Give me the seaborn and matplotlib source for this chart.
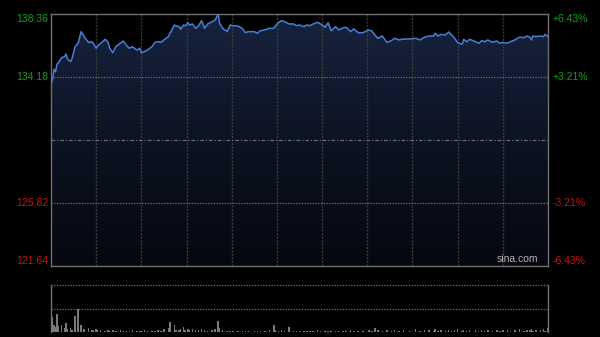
import numpy as np
import pandas as pd
import seaborn as sns
import matplotlib
matplotlib.use("Agg")
import matplotlib.pyplot as plt
from matplotlib.colors import LinearSegmentedColormap

# ---------------- data ----------------
minutes = [0, 1, 2, 3, 4, 5, 7, 9, 10, 11, 13, 14, 16, 18, 20, 22, 25, 27, 28, 30,
           31, 33, 36, 38, 39, 41, 43, 46, 48, 50, 52, 54, 57, 59, 60, 62, 64, 67, 69, 71,
           73, 75, 78, 79, 82, 83, 85, 86, 88, 89, 91, 92, 94, 96, 98, 100, 102, 104, 107, 109,
           111, 112, 114, 117, 119, 121, 124, 127, 129, 131, 135, 137, 139, 142, 145, 148, 149, 151, 153, 155,
           158, 161, 163, 165, 168, 170, 172, 174, 177, 179, 182, 184, 186, 189, 191, 194, 196, 199, 201, 204,
           207, 211, 213, 215, 217, 220, 223, 226, 228, 231, 234, 238, 242, 245, 248, 251, 254, 255, 257, 259,
           262, 264, 266, 268, 270, 273, 274, 276, 278, 282, 284, 286, 288, 290, 293, 296, 298, 300, 303, 305,
           308, 311, 314, 316, 318, 319, 320, 322, 325, 327, 328, 330]
prices = [133.76, 133.98, 134.69, 134.53, 135.04, 135.13, 135.46, 135.53, 135.71, 135.36,
          135.20, 135.42, 136.19, 136.42, 137.19, 136.86, 136.46, 136.52, 136.42, 136.09,
          136.24, 136.42, 136.68, 136.46, 136.09, 135.79, 136.19, 136.42, 136.57, 136.30,
          136.09, 136.19, 135.97, 136.09, 135.79, 135.86, 135.97, 136.19, 136.48, 136.52,
          136.48, 136.64, 136.86, 137.08, 137.63, 137.57, 137.52, 137.35, 137.63, 137.57,
          137.78, 137.63, 137.70, 137.41, 137.57, 137.92, 137.41, 137.70, 137.85, 137.96,
          138.36, 137.74, 137.41, 137.19, 137.63, 137.57, 137.57, 137.41, 137.12, 137.19,
          137.19, 137.08, 137.25, 137.30, 137.41, 137.41, 137.57, 137.78, 137.92, 137.85,
          137.70, 137.70, 137.59, 137.63, 137.52, 137.63, 137.59, 137.70, 137.81, 137.70,
          137.48, 137.78, 137.25, 137.52, 137.30, 137.45, 137.48, 137.19, 137.37, 137.12,
          137.12, 137.30, 137.23, 136.97, 136.75, 136.90, 136.48, 136.59, 136.75, 136.64,
          136.70, 136.70, 136.75, 136.64, 136.82, 136.90, 136.90, 137.08, 136.90, 137.01,
          136.97, 137.17, 136.97, 136.75, 136.46, 136.35, 136.68, 136.52, 136.68, 136.52,
          136.42, 136.59, 136.52, 136.64, 136.48, 136.57, 136.42, 136.48, 136.42, 136.52,
          136.64, 136.82, 136.79, 136.90, 136.82, 136.64, 136.90, 136.86, 136.90, 136.86,
          137.01, 136.86]
volumes = [25, 32, 15, 10, 38, 12, 15, 8, 20, 6, 8, 5, 33, 50, 15, 6, 8, 5, 4, 6,
           4, 5, 3, 4, 3, 5, 3, 4, 3, 2, 3, 4, 3, 2, 3, 4, 3, 2, 3, 4,
           3, 6, 8, 22, 14, 5, 4, 6, 10, 5, 7, 4, 6, 4, 5, 6, 4, 3, 5, 6,
           24, 8, 4, 3, 2, 3, 2, 3, 2, 3, 2, 3, 2, 3, 4, 15, 5, 3, 4, 3,
           10, 3, 2, 3, 2, 3, 2, 3, 4, 2, 3, 2, 3, 2, 3, 2, 3, 4, 3, 2,
           3, 4, 3, 8, 4, 3, 5, 3, 4, 3, 5, 3, 6, 3, 4, 5, 3, 6, 3, 4,
           3, 5, 3, 4, 6, 3, 4, 3, 5, 4, 3, 5, 3, 4, 3, 5, 3, 4, 5, 3,
           4, 6, 3, 5, 4, 6, 3, 5, 4, 7, 3, 8]

prev_close = 130.00
price_ticks = [138.36, 134.18, 125.82, 121.64]
pct_labels = ["+6.43%", "+3.21%", "-3.21%", "-6.43%"]
tick_colors = ["#14a014", "#14a014", "#c81414", "#c81414"]
session_minutes = 330
grid_step = 30

df = pd.DataFrame({"minute": minutes, "price": prices, "volume": volumes})

# ---------------- figure ----------------
sns.set_theme(style="dark")
plt.rcParams["font.family"] = ["Liberation Sans", "DejaVu Sans"]

W, H = 600, 337
fig = plt.figure(figsize=(W / 100, H / 100), dpi=100, facecolor="black")
ax = fig.add_axes([51 / W, (H - 266) / H, 497 / W, 252 / H])
axv = fig.add_axes([51 / W, (H - 332) / H, 497 / W, 47 / H])

ymin, ymax = price_ticks[-1], price_ticks[0]
for a in (ax, axv):
    a.set_facecolor("black")
    a.set_xlim(0, session_minutes)
    a.set_xticks([])
    a.set_yticks([])
    a.grid(False)
ax.set_ylim(ymin, ymax)

# gradient fill under the line
cmap = LinearSegmentedColormap.from_list("fill", ["#060810", "#0c1322", "#17243f"])
grad = np.linspace(0, 1, 256).reshape(-1, 1)
im = ax.imshow(grad, origin="lower", aspect="auto", cmap=cmap,
               extent=[0, session_minutes, ymin, ymax], zorder=1)
poly = ax.fill_between(df["minute"], df["price"], ymin, color="none", lw=0)
im.set_clip_path(poly.get_paths()[0], transform=ax.transData)

# grid lines
for m in range(grid_step, session_minutes, grid_step):
    ax.axvline(m, color="#3c3c3c", lw=1, ls=(0, (1.5, 1)), zorder=2)
for p in (price_ticks[1], price_ticks[2]):
    ax.axhline(p, color="#6e6e6e", lw=0.9, ls=(0, (1, 1.2)), zorder=2)
ax.axhline(prev_close, color="#5f6f80", lw=0.9, ls=(0, (3, 1.5, 1, 1.5)), zorder=2)

sns.lineplot(data=df, x="minute", y="price", ax=ax, color="#4a7ed4",
             lw=1.1, zorder=4, estimator=None)
ax.set_xlabel("")
ax.set_ylabel("")

for s in ax.spines.values():
    s.set_visible(True)
    s.set_color("#707070")
    s.set_linewidth(1)

# price / percent labels
trans = ax.get_yaxis_transform()
vas = ["top", "center", "center", "bottom"]
for p, lab, c, va in zip(price_ticks, pct_labels, tick_colors, vas):
    ax.text(-0.006, p, f"{p:.2f}", color=c, fontsize=7.5, ha="right", va=va,
            transform=trans)
    ax.text(1.010, p, lab, color=c, fontsize=7.5, ha="left", va=va,
            transform=trans)

ax.text(0.98, 0.006, "sina.com", color="#b4b4b4", fontsize=7.5, ha="right",
        va="bottom", transform=ax.transAxes, zorder=5)

# volume panel
axv.bar(df["minute"], df["volume"], width=1.0, color="#7a7a7a", lw=0, zorder=3)
axv.set_ylim(0, 100)
for v in (100, 50):
    axv.axhline(v, color="#6e6e6e", lw=0.9, ls=(0, (1, 1.2)), zorder=2, clip_on=False)
for side in ("top", "bottom"):
    axv.spines[side].set_visible(False)
for side in ("left", "right"):
    axv.spines[side].set_visible(True)
    axv.spines[side].set_color("#707070")
    axv.spines[side].set_linewidth(1)

fig.savefig("out.png", dpi=100, facecolor="black")
